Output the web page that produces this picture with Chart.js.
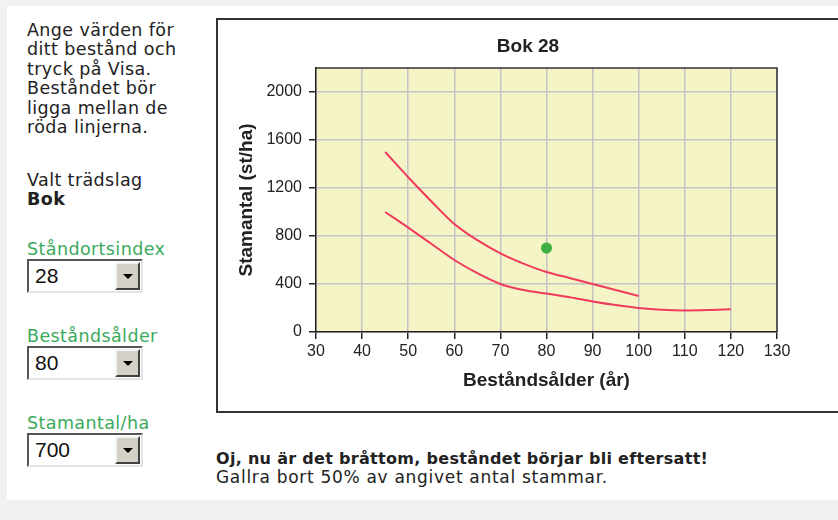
<!DOCTYPE html>
<html>
<head>
<meta charset="utf-8">
<script src="https://cdn.jsdelivr.net/npm/chart.js@4.4.1/dist/chart.umd.min.js"></script>
<style>
  html, body { margin: 0; padding: 0; }
  body {
    width: 838px; height: 520px; overflow: hidden; position: relative;
    background: #f0f2f1; color: #222;
    font-family: "DejaVu Sans", Verdana, sans-serif;
  }
  #panel { position: absolute; left: 7px; top: 6px; width: 831px; height: 494px; background: #fff; }
  .txt { position: absolute; left: 27px; font-size: 17.5px; line-height: 19.4px; letter-spacing: 0.4px; white-space: nowrap; }
  .lbl { color: #3aaa5c; }
  .sel {
    position: absolute; left: 27px; width: 116px; height: 34px; box-sizing: border-box;
    background: #fff; border: 2px solid; border-color: #555 #e4e4e4 #e4e4e4 #555;
    font-family: "Liberation Sans", Arial, sans-serif; font-size: 21px; line-height: 30px;
    padding-left: 6px; color: #111;
  }
  .sel .btn {
    position: absolute; right: 1px; top: 1px; width: 25px; height: 28px; box-sizing: border-box;
    background: #d4d0c8; border: 2px solid; border-color: #f4f4f4 #404040 #404040 #f4f4f4;
  }
  .sel .btn::after {
    content: ""; position: absolute; left: 6px; top: 10px;
    border-left: 5px solid transparent; border-right: 5px solid transparent; border-top: 5px solid #000;
  }
  #box {
    position: absolute; left: 216px; top: 18px; width: 660px; height: 395px;
    box-sizing: border-box; border: 2px solid #333; background: #fff;
  }
  #chart { position: absolute; left: 218px; top: 20px; }
  .msg { position: absolute; left: 216px; line-height: 19px; white-space: nowrap; }
  .msg.bold { font-size: 16px; font-weight: bold; letter-spacing: 0.3px; }
  .msg.plain { font-size: 17px; letter-spacing: 0.7px; }
</style>
</head>
<body>
<div id="panel"></div>

<div class="txt" style="top:21px">Ange värden för<br>ditt bestånd och<br>tryck på Visa.<br>Beståndet bör<br>ligga mellan de<br>röda linjerna.</div>
<div class="txt" style="top:171px">Valt trädslag<br><b>Bok</b></div>

<div class="txt lbl" style="top:240px">Ståndortsindex</div>
<div class="sel" style="top:259px">28<div class="btn"></div></div>

<div class="txt lbl" style="top:327px">Beståndsålder</div>
<div class="sel" style="top:346px">80<div class="btn"></div></div>

<div class="txt lbl" style="top:414px">Stamantal/ha</div>
<div class="sel" style="top:433px">700<div class="btn"></div></div>

<div id="box"></div>
<canvas id="chart" width="620" height="391"></canvas>

<div class="msg bold" style="top:449px">Oj, nu är det bråttom, beståndet börjar bli eftersatt!</div>
<div class="msg plain" style="top:468px">Gallra bort 50% av angivet antal stammar.</div>

<script>
// upper red line (max stem count)
const upperAges = [45, 50, 55, 60, 65, 70, 75, 80, 85, 90, 95, 100];
const upperStems = [1500, 1290, 1090, 900, 765, 655, 570, 500, 450, 400, 350, 300];

// lower red line (min stem count)
const lowerAges = [45, 50, 55, 60, 65, 70, 75, 80, 85, 90, 95, 100, 105, 110, 115, 120];
const lowerStems = [1000, 870, 735, 600, 490, 400, 350, 320, 290, 255, 225, 200, 185, 180, 183, 190];

// the entered stand
const standAge = [80];
const standStems = [700];

const xTicks = [30, 40, 50, 60, 70, 80, 90, 100, 110, 120, 130];
const yTicks = [0, 400, 800, 1200, 1600, 2000];

const chartTitle = 'Bok 28';
const red = '#ef3b5c';
const ink = '#222';

function toPoints(xs, ys) {
  return xs.map((x, i) => ({ x: x, y: ys[i] }));
}

const plotFrame = {
  id: 'plotFrame',
  beforeDraw(chart) {
    const { ctx, chartArea: a } = chart;
    ctx.save();
    ctx.fillStyle = '#f5f4c7';
    ctx.fillRect(a.left, a.top, a.right - a.left, a.bottom - a.top);
    ctx.restore();
  },
  afterDraw(chart) {
    const { ctx, chartArea: a } = chart;
    ctx.save();
    ctx.strokeStyle = '#333';
    ctx.lineWidth = 1.5;
    ctx.beginPath();
    ctx.moveTo(a.left, a.top);
    ctx.lineTo(a.right, a.top);
    ctx.lineTo(a.right, a.bottom);
    ctx.stroke();
    // title, centred on the whole canvas
    ctx.fillStyle = ink;
    ctx.font = 'bold 19px "Liberation Sans", Arial, sans-serif';
    ctx.textAlign = 'center';
    ctx.textBaseline = 'middle';
    ctx.fillText(chartTitle, chart.width / 2, 27);
    ctx.restore();
  }
};

const tickFont = { family: '"Liberation Sans", Arial, sans-serif', size: 16 };
const titleFont = { family: '"Liberation Sans", Arial, sans-serif', size: 19, weight: 'bold' };

new Chart(document.getElementById('chart').getContext('2d'), {
  type: 'line',
  data: {
    datasets: [
      {
        data: toPoints(upperAges, upperStems),
        borderColor: red, borderWidth: 2, pointRadius: 0,
        tension: 0.4, cubicInterpolationMode: 'monotone', fill: false
      },
      {
        data: toPoints(lowerAges, lowerStems),
        borderColor: red, borderWidth: 2, pointRadius: 0,
        tension: 0.4, cubicInterpolationMode: 'monotone', fill: false
      },
      {
        data: toPoints(standAge, standStems),
        showLine: false, pointRadius: 5.5,
        pointBackgroundColor: '#3cb043', pointBorderColor: '#3cb043', pointBorderWidth: 0
      }
    ]
  },
  options: {
    responsive: false,
    animation: false,
    layout: { padding: { top: 48, right: 61, left: 0, bottom: 0 } },
    plugins: { legend: { display: false }, tooltip: { enabled: false }, title: { display: false } },
    scales: {
      x: {
        type: 'linear', min: 30, max: 130,
        afterBuildTicks: s => { s.ticks = xTicks.map(v => ({ value: v })); },
        afterFit: s => { s.height = 79; },
        grid: { color: '#c4c4c4', lineWidth: 1.5, tickLength: 7, tickColor: ink },
        border: { color: ink, width: 1.5 },
        ticks: { font: tickFont, color: ink, padding: 3, maxRotation: 0, autoSkip: false, callback: v => String(v) },
        title: { display: true, text: 'Beståndsålder (år)', font: titleFont, color: ink, padding: { top: 0, bottom: 18.5 } }
      },
      y: {
        min: 0, max: 2200,
        afterBuildTicks: s => { s.ticks = yTicks.map(v => ({ value: v })); },
        afterFit: s => { s.width = 98; },
        grid: { color: '#c4c4c4', lineWidth: 1.5, tickLength: 7, tickColor: ink },
        border: { color: ink, width: 1.5 },
        ticks: { font: tickFont, color: ink, padding: 7, callback: v => String(v) },
        title: { display: true, text: 'Stamantal (st/ha)', font: titleFont, color: ink, padding: { top: 17.5, bottom: 0 } }
      }
    }
  },
  plugins: [plotFrame]
});
</script>
</body>
</html>
